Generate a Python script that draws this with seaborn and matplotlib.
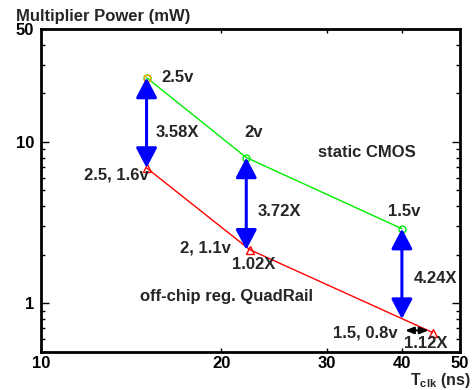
import matplotlib
matplotlib.use('Agg')
import matplotlib.pyplot as plt
import matplotlib.ticker as mticker
import seaborn as sns
import pandas as pd

# static CMOS (green) and off-chip reg. QuadRail (red)
t_clk_cmos = [15, 22, 40]
power_cmos = [25, 8.0, 2.9]
vdd_cmos = ["2.5v", "2v", "1.5v"]

t_clk_quad = [15, 22.3, 45]
power_quad = [6.9, 2.15, 0.66]

# vertical savings arrows: x, top (CMOS), bottom (QuadRail line)
arrow_x = [15, 22, 40]
arrow_top = [25, 8.0, 2.9]
arrow_bottom = [6.9, 2.15, 0.8]
ratio_labels = ["3.58X", "3.72X", "4.24X"]

x_ticks = [10, 20, 30, 40, 50]
y_ticks = [1, 10, 50]

sns.set_style("ticks")
plt.rcParams['font.family'] = ['Liberation Sans', 'DejaVu Sans']
plt.rcParams['font.weight'] = 'bold'
plt.rcParams['mathtext.fontset'] = 'custom'
plt.rcParams['mathtext.rm'] = 'Liberation Sans:bold'
plt.rcParams['mathtext.it'] = 'Liberation Sans:bold'
plt.rcParams['mathtext.bf'] = 'Liberation Sans:bold'

fig = plt.figure(figsize=(4.74, 3.90), dpi=100)
ax = fig.add_axes([41 / 474, 38 / 390, 419 / 474, 323 / 390])

df_cmos = pd.DataFrame({"t": t_clk_cmos, "p": power_cmos})
df_quad = pd.DataFrame({"t": t_clk_quad, "p": power_quad})

sns.lineplot(data=df_cmos, x="t", y="p", ax=ax, color="#00ee00", lw=1.0,
             marker="o", markersize=5, mfc="none", mec="#00ee00", mew=1.0)
sns.lineplot(data=df_quad, x="t", y="p", ax=ax, color="#ff0000", lw=1.0,
             marker="^", markersize=6, mfc="none", mec="#ff0000", mew=1.0)
ax.plot(t_clk_cmos[0], power_cmos[0], marker="s", ms=5, mfc="none",
        mec="#ffa000", mew=1.0, ls="none")

ax.set_xscale("log")
ax.set_yscale("log")
ax.set_xlim(10, 50)
ax.set_ylim(0.5, 50)

for x, top, bot in zip(arrow_x, arrow_top, arrow_bottom):
    ax.annotate("", xy=(x, top), xytext=(x, bot),
                arrowprops=dict(arrowstyle="<|-|>,head_length=0.38,head_width=0.2",
                                mutation_scale=32, lw=2.2, color="#0000ff",
                                shrinkA=0, shrinkB=0))

ax.annotate("", xy=(40.5, 0.68), xytext=(44.3, 0.68),
            arrowprops=dict(arrowstyle="<|-|>,head_length=0.5,head_width=0.2",
                            mutation_scale=10, lw=1.5, color="black",
                            shrinkA=0, shrinkB=0))

fs = 12
ax.text(15.9, 25, vdd_cmos[0], fontsize=fs, ha="left", va="center")
ax.text(22.6, 11.5, vdd_cmos[1], fontsize=fs, ha="center", va="center")
ax.text(40.4, 3.68, vdd_cmos[2], fontsize=fs, ha="center", va="center")
ax.text(15.55, 11.5, ratio_labels[0], fontsize=fs, ha="left", va="center")
ax.text(22.94, 3.73, ratio_labels[1], fontsize=fs, ha="left", va="center")
ax.text(41.8, 1.43, ratio_labels[2], fontsize=fs, ha="left", va="center")
ax.text(15.1, 6.2, "2.5, 1.6v", fontsize=fs, ha="right", va="center")
ax.text(20.7, 2.2, "2, 1.1v", fontsize=fs, ha="right", va="center")
ax.text(20.84, 1.75, "1.02X", fontsize=fs, ha="left", va="center")
ax.text(39.3, 0.651, "1.5, 0.8v", fontsize=fs, ha="right", va="center")
ax.text(40.4, 0.565, "1.12X", fontsize=fs, ha="left", va="center")
ax.text(34.9, 8.55, "static CMOS", fontsize=fs, ha="center", va="center")
ax.text(14.63, 1.105, "off-chip reg. QuadRail", fontsize=fs, ha="left", va="center")

ax.xaxis.set_major_locator(mticker.FixedLocator(x_ticks))
ax.xaxis.set_major_formatter(mticker.FixedFormatter([str(t) for t in x_ticks]))
ax.xaxis.set_minor_locator(mticker.NullLocator())
ax.yaxis.set_major_locator(mticker.FixedLocator(y_ticks))
ax.yaxis.set_major_formatter(mticker.FixedFormatter([str(t) for t in y_ticks]))
ax.yaxis.set_minor_locator(mticker.LogLocator(base=10, subs=range(2, 10)))
ax.yaxis.set_minor_formatter(mticker.NullFormatter())

ax.tick_params(axis="both", which="both", direction="in", top=True, right=True,
               labelsize=fs, width=1.0, colors="black")
ax.tick_params(axis="x", which="major", length=3, pad=3)
ax.tick_params(axis="y", which="major", length=6, pad=5)
ax.tick_params(axis="y", which="minor", length=3)
for lab in ax.get_xticklabels() + ax.get_yticklabels():
    lab.set_fontweight("bold")

for s in ax.spines.values():
    s.set_linewidth(2.0)
    s.set_color("black")

ax.set_xlabel("")
ax.set_ylabel("")
fig.text(16 / 474, 1 - 17 / 390, "Multiplier Power (mW)", fontsize=fs,
         ha="left", va="center")
fig.text(471 / 474, 1 - 385 / 390, r"$\mathrm{T_{clk}}$ (ns)", fontsize=11.5,
         ha="right", va="baseline")

fig.savefig("out.png", dpi=100)
